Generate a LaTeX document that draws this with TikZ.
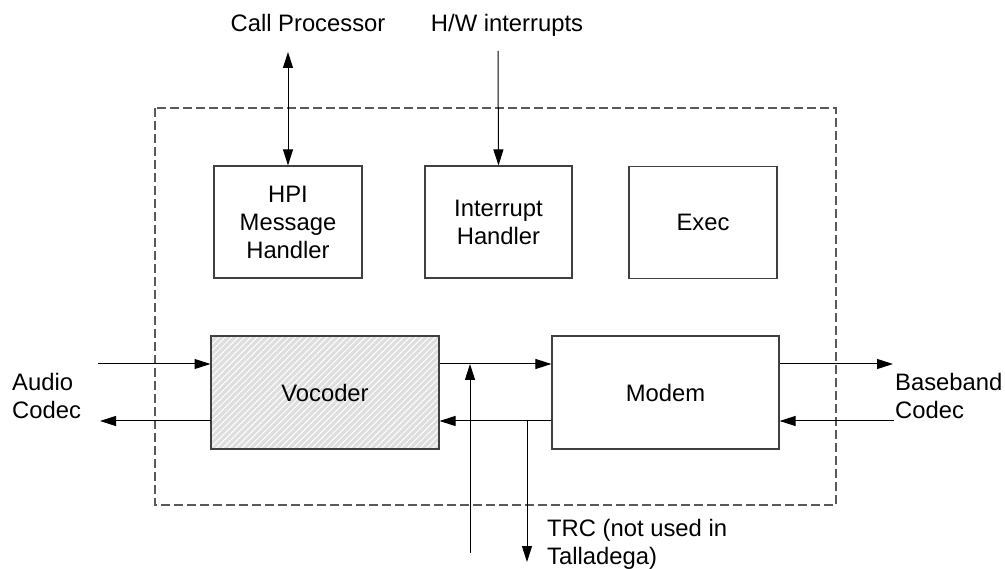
\documentclass[tikz,border=0pt]{standalone}
\usepackage{fontspec}
\setmainfont{Liberation Sans}
\usetikzlibrary{arrows.meta,patterns.meta}
\begin{document}
\begin{tikzpicture}[x=1pt,y=-1pt,
  font=\fontsize{23.8}{28}\selectfont,
  blk/.style={draw=black!75, line width=1.2pt, align=center, inner sep=0pt, minimum height=112pt},
  conn/.style={line width=1pt, -{Triangle[length=16pt,width=10pt]}},
  bconn/.style={line width=1pt, {Triangle[length=16pt,width=10pt]}-{Triangle[length=16pt,width=10pt]}},
  lbl/.style={inner sep=0pt, align=left}
]
\useasboundingbox (0,0) rectangle (1005,569);
\fill[white] (0,0) rectangle (1005,569);
% dashed boundary
\draw[black!65, line width=1.2pt, dash pattern=on 9pt off 4pt] (155,108) rectangle (836,505);
% blocks
\node[blk, minimum width=148pt] (hpi) at (288,222) {HPI\\Message\\Handler};
\node[blk, minimum width=147pt] (int) at (498.5,222) {Interrupt\\Handler};
\node[blk, minimum width=148pt] (exec) at (703,222.5) {Exec};
\node[blk, minimum width=228pt, minimum height=113pt,
      preaction={fill=black!13},
      pattern={Lines[angle=45,distance=4.5pt,line width=1pt]}, pattern color=white] (voc) at (325,392.5) {};
\node[inner sep=0pt] (voct) at (voc.center) {Vocoder};
\node[blk, minimum width=227pt, minimum height=113pt] (mod) at (665.5,392.5) {Modem};
% free ends
\coordinate (cp) at (288,52);
\coordinate (hw) at (498,51);
\coordinate (ain) at (98,364);
\coordinate (aout) at (100,421);
\coordinate (bout) at (893,364);
\coordinate (bin) at (894,421);
\coordinate (ctrl) at (470,553);
\coordinate (trc) at (527,562);
% labels
\node[lbl, anchor=base] (cpl) at (308,32) {Call Processor};
\node[lbl, anchor=base] (hwl) at (507,32) {H/W interrupts};
\node[lbl, anchor=north west] (al) at (12,373) {Audio\\Codec};
\node[lbl, anchor=north west] (bl) at (895,373) {Baseband\\Codec};
\node[lbl, anchor=north west] (tl) at (547,519) {TRC (not used in\\Talladega)};
% connectors
\draw[bconn] (cp) -- (hpi.north);
\draw[conn] (hw) -- (int.north);
\draw[conn] (ain) -- (ain -| voc.west);
\draw[conn] (aout -| voc.west) -- (aout);
\draw[conn] (voc.east |- ain) -- (mod.west |- ain);
\draw[conn] (mod.west |- aout) -- (voc.east |- aout);
\draw[conn] (mod.east |- bout) -- (bout);
\draw[conn] (bin) -- (mod.east |- bin);
\draw[conn] (ctrl) -- (ctrl |- ain);
\draw[conn] (trc |- aout) -- (trc);
\end{tikzpicture}
\end{document}
